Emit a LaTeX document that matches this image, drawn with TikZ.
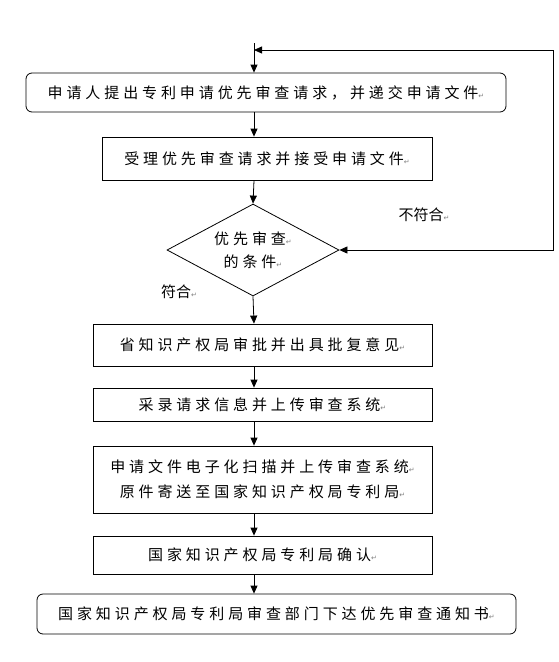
\documentclass[tikz,border=0pt]{standalone}
\usepackage{fontspec}
\newfontfamily\cjk[LetterSpace=26]{Noto Sans CJK SC}
\newfontfamily\cjklabel{Noto Sans CJK SC}
\newfontfamily\symfont{DejaVu Sans}
\usetikzlibrary{arrows.meta,shapes.geometric}
\newcommand{\pmark}{{\symfont\fontsize{7}{7}\selectfont\textcolor{gray}{↵}}}
\tikzset{
  box/.style={draw, line width=0.8pt, inner sep=0pt, align=center,
    font=\cjk\fontsize{15}{25}\selectfont},
  rbox/.style={box, rounded corners=6pt},
  lbl/.style={inner sep=0pt, font=\cjklabel\fontsize{15}{15}\selectfont},
  arr/.style={line width=0.8pt, -{Triangle[length=8pt,width=7pt]}},
  darr/.style={line width=0.8pt, {Triangle[length=8pt,width=7pt]}-{Triangle[length=8pt,width=7pt]}}
}
\begin{document}
\begin{tikzpicture}[x=1pt,y=-1pt]
\useasboundingbox (0,0) rectangle (558,662);
\fill[white] (0,0) rectangle (558,662);
\node[rbox, minimum width=480pt, minimum height=39pt] (b1) at (266,92.5) {申请人提出专利申请优先审查请求，并递交申请文件\pmark};
\node[box, minimum width=330pt, minimum height=43pt] (b2) at (267,158.5) {受理优先审查请求并接受申请文件\pmark};
\node[draw, line width=0.8pt, shape=diamond, shape aspect=1.87, minimum width=172pt, minimum height=92pt, inner sep=0pt, align=center, font=\cjk\fontsize{15}{23}\selectfont] (d) at (253,250) {优先审查\pmark\\的条件\pmark};
\node[box, minimum width=339pt, minimum height=42pt] (b3) at (262.5,345) {省知识产权局审批并出具批复意见\pmark};
\node[box, minimum width=339pt, minimum height=33pt] (b4) at (262.5,404.5) {采录请求信息并上传审查系统\pmark};
\node[box, minimum width=339pt, minimum height=67pt] (b5) at (262.5,479.5) {申请文件电子化扫描并上传审查系统\pmark\\原件寄送至国家知识产权局专利局\pmark};
\node[box, minimum width=339pt, minimum height=38pt] (b6) at (262.5,555) {国家知识产权局专利局确认\pmark};
\node[rbox, minimum width=479pt, minimum height=40pt] (b7) at (276.5,614) {国家知识产权局专利局审查部门下达优先审查通知书\pmark};
\node[lbl] (nf) at (424,215) {不符合\pmark};
\node[lbl] (f) at (179,292) {符合\pmark};
\coordinate (ax) at (254,0);
\coordinate (start) at (254,43);
\coordinate (fbL) at (254,50);
\coordinate (fbR) at (553,50);
\draw[arr] (start) -- (b1.north -| ax);
\draw[arr] (b1.south -| ax) -- (b2.north -| ax);
\draw[arr] (b2.south -| ax) -- (d.north);
\draw[arr] (d.south) -- (b3.north -| ax);
\draw[arr] (b3.south -| ax) -- (b4.north -| ax);
\draw[arr] (b4.south -| ax) -- (b5.north -| ax);
\draw[arr] (b5.south -| ax) -- (b6.north -| ax);
\draw[arr] (b6.south -| ax) -- (b7.north -| ax);
\draw[darr] (fbL) -- (fbR) |- (d.east);
\end{tikzpicture}
\end{document}
